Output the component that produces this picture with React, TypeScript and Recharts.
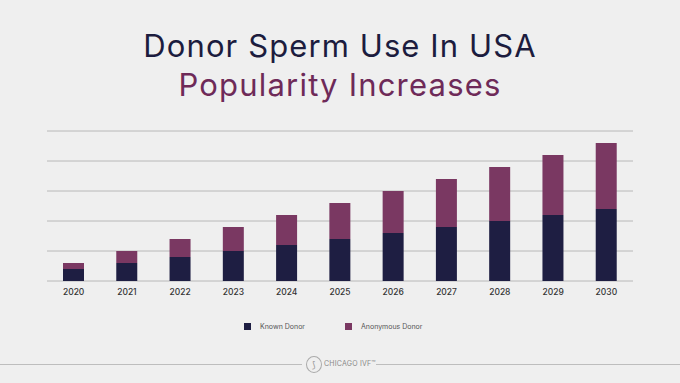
import React from 'react';
import { BarChart, Bar, XAxis, YAxis, CartesianGrid } from 'recharts';

const years = ['2020', '2021', '2022', '2023', '2024', '2025', '2026', '2027', '2028', '2029', '2030'];
const knownDonor = [4, 6, 8, 10, 12, 14, 16, 18, 20, 22, 24];
const anonymousDonor = [2, 4, 6, 8, 10, 12, 14, 16, 18, 20, 22];
const yTicks = [0, 10, 20, 30, 40, 50];

const seriesNames = ['Known Donor', 'Anonymous Donor'];
const seriesColors = ['#1e1e42', '#7a3862'];

const data = years.map((year, i) => ({
  year,
  known: knownDonor[i],
  anonymous: anonymousDonor[i],
}));

const font = 'Inter, "Open Sans", sans-serif';

export default function App() {
  return (
    <div
      style={{
        position: 'absolute',
        left: 0,
        top: 0,
        width: 680,
        height: 383,
        background: '#efefef',
        overflow: 'hidden',
        fontFamily: font,
      }}
    >
      <div
        style={{
          position: 'absolute',
          top: 27,
          width: 680,
          textAlign: 'center',
          fontSize: 31,
          lineHeight: '38px',
          letterSpacing: 1.1,
          color: '#1c1c3e',
        }}
      >
        Donor Sperm Use In USA
      </div>
      <div
        style={{
          position: 'absolute',
          top: 66,
          width: 680,
          textAlign: 'center',
          fontSize: 31,
          lineHeight: '38px',
          letterSpacing: 1.2,
          color: '#6e2a58',
        }}
      >
        Popularity Increases
      </div>

      <div style={{ position: 'absolute', left: 0, top: 0 }}>
        <BarChart width={680} height={383} data={data} margin={{ top: 131, right: 47, left: 47, bottom: 82 }}>
          <CartesianGrid vertical={false} stroke="#b8b8b8" strokeWidth={1} />
          <XAxis
            dataKey="year"
            axisLine={false}
            tickLine={false}
            height={20}
            tick={{ fill: '#333', fontSize: 8.5, fontFamily: font, fontWeight: 500 }}
          />
          <YAxis hide domain={[0, 50]} ticks={yTicks} />
          <Bar dataKey="known" stackId="a" fill={seriesColors[0]} barSize={21} isAnimationActive={false} />
          <Bar dataKey="anonymous" stackId="a" fill={seriesColors[1]} barSize={21} isAnimationActive={false} />
        </BarChart>
      </div>

      {/* legend */}
      <div style={{ position: 'absolute', top: 322, left: 244, display: 'flex', alignItems: 'center' }}>
        {seriesNames.map((name, i) => (
          <div key={name} style={{ display: 'flex', alignItems: 'center', marginRight: i === 0 ? 40 : 0 }}>
            <div style={{ width: 7, height: 7, background: seriesColors[i], marginRight: 9 }} />
            <span style={{ fontSize: 7, color: '#555', lineHeight: '9px' }}>{name}</span>
          </div>
        ))}
      </div>

      {/* footer logo */}
      <div style={{ position: 'absolute', top: 364, left: 0, width: 302, height: 1, background: '#bdbdbd' }} />
      <div style={{ position: 'absolute', top: 364, left: 376, width: 304, height: 1, background: '#bdbdbd' }} />
      <div
        style={{
          position: 'absolute',
          top: 356,
          left: 306,
          width: 14,
          height: 15,
          borderRadius: '50%',
          border: '1px solid #aaa',
          fontSize: 9,
          color: '#999',
          textAlign: 'center',
          lineHeight: '15px',
        }}
      >
        ⟆
      </div>
      <div style={{ position: 'absolute', top: 359, left: 324, fontSize: 7, color: '#888', letterSpacing: 0.2 }}>
        CHICAGO IVF™
      </div>
    </div>
  );
}
